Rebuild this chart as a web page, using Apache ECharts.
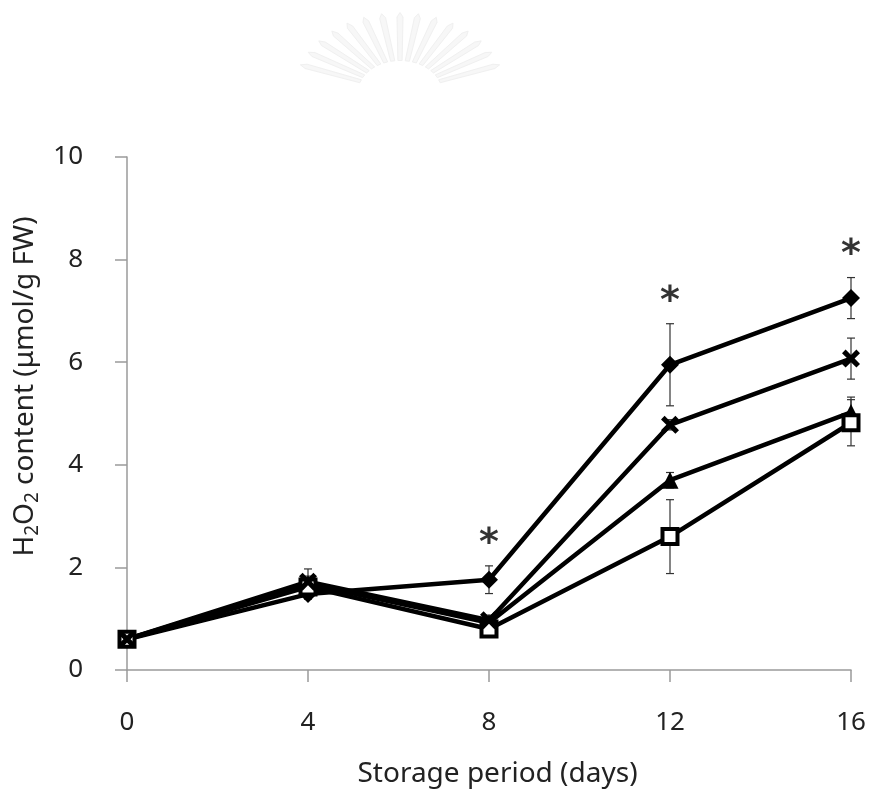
<!DOCTYPE html>
<html>
<head>
<meta charset="utf-8">
<title>H2O2 content during storage</title>
<script src="https://cdn.jsdelivr.net/npm/echarts@6/dist/echarts.min.js"></script>
<style>
  html, body { margin: 0; padding: 0; background: #ffffff; }
  #chart { width: 870px; height: 794px; }
</style>
</head>
<body>
<div id="chart"></div>
<script>
// Storage days (x axis)
const days = [0, 4, 8, 12, 16];

// Treatment means and standard deviations (µmol/g FW)
const diamondMean = [0.60, 1.48, 1.76, 5.95, 7.25];
const diamondSd   = [0.05, 0.10, 0.27, 0.80, 0.40];
const crossMean   = [0.60, 1.72, 0.97, 4.78, 6.07];
const crossSd     = [0.05, 0.25, 0.10, 0.10, 0.40];
const triangleMean = [0.60, 1.68, 0.92, 3.70, 5.02];
const triangleSd   = [0.05, 0.15, 0.10, 0.15, 0.30];
const squareMean  = [0.60, 1.62, 0.80, 2.60, 4.82];
const squareSd    = [0.05, 0.10, 0.10, 0.72, 0.45];

// Days with a significant difference (marked with *)
const sigDays = [8, 12, 16];

// Axis ticks
const yTicks = [0, 2, 4, 6, 8, 10];
const xTicks = [0, 4, 8, 12, 16];

const FONT = '"Noto Sans", "DejaVu Sans", sans-serif';
// Bold "x" marker outline
const crossPath = 'path://M0,3.2 L3.2,0 L8,4.8 L12.8,0 L16,3.2 L11.2,8 L16,12.8 L12.8,16 L8,11.2 L3.2,16 L0,12.8 L4.8,8 Z';

function pairs(mean) { return days.map((d, i) => [d, mean[i]]); }
function errRows(mean, sd) { return days.map((d, i) => [d, mean[i] - sd[i], mean[i] + sd[i]]); }

const allErr = [].concat(
  errRows(squareMean, squareSd),
  errRows(triangleMean, triangleSd),
  errRows(crossMean, crossSd),
  errRows(diamondMean, diamondSd)
);

const sigPoints = sigDays.map(d => {
  const i = days.indexOf(d);
  return [d, diamondMean[i] + diamondSd[i]];
});

function lineSeries(name, mean, symbol, size, item) {
  return {
    name: name,
    type: 'line',
    data: pairs(mean),
    symbol: symbol,
    symbolSize: size,
    showAllSymbol: true,
    lineStyle: { color: '#000', width: 4.5 },
    itemStyle: Object.assign({ color: '#000', opacity: 1 }, item || {}),
    z: 3,
    animation: false
  };
}

// Faint fan-shaped mark at the top of the page
const fan = [];
for (let k = 0; k < 15; k++) {
  const a = (200 + k * 10) * Math.PI / 180;
  const cx = 400, cy = 92;
  const r0 = 42, r1 = 100;
  const w = 0.05;
  fan.push({
    type: 'polygon',
    shape: {
      points: [
        [cx + r0 * Math.cos(a - w), cy + r0 * Math.sin(a - w) * 0.75],
        [cx + r1 * Math.cos(a - w * 0.6), cy + r1 * Math.sin(a - w * 0.6) * 0.75],
        [cx + (r1 + 6) * Math.cos(a), cy + (r1 + 6) * Math.sin(a) * 0.75],
        [cx + r1 * Math.cos(a + w * 0.6), cy + r1 * Math.sin(a + w * 0.6) * 0.75],
        [cx + r0 * Math.cos(a + w), cy + r0 * Math.sin(a + w) * 0.75]
      ]
    },
    style: { fill: '#f7f7f7', stroke: '#f0f0f0', lineWidth: 1 },
    silent: true
  });
}

const chart = echarts.init(document.getElementById('chart'), null, { renderer: 'canvas' });

chart.setOption({
  backgroundColor: '#ffffff',
  animation: false,
  graphic: fan,
  grid: { left: 127, right: 19, top: 157, bottom: 124, containLabel: false, outerBoundsMode: 'none' },
  xAxis: {
    type: 'value',
    min: 0, max: 16, interval: 4,
    name: 'Storage period (days)',
    nameLocation: 'middle',
    nameGap: 90,
    nameTextStyle: { fontFamily: FONT, fontSize: 28, color: '#222', padding: [0, 0, 0, 17] },
    axisLine: { show: true, lineStyle: { color: '#9a9a9a', width: 1.5 } },
    axisTick: { show: true, length: 12, lineStyle: { color: '#9a9a9a', width: 1.5 } },
    axisLabel: {
      fontFamily: FONT, fontSize: 26, color: '#222', margin: 40,
      formatter: v => (xTicks.indexOf(v) >= 0 ? String(v) : '')
    },
    splitLine: { show: false }
  },
  yAxis: {
    type: 'value',
    min: 0, max: 10, interval: 2,
    name: '{t|H}{s|2}{t|O}{s|2}{t| content (μmol/g FW)}',
    nameLocation: 'middle',
    nameGap: 84,
    nameTextStyle: {
      fontFamily: FONT, fontSize: 28, color: '#222', padding: [0, 0, 0, 54],
      rich: {
        t: { fontFamily: FONT, fontSize: 28, color: '#222' },
        s: { fontFamily: FONT, fontSize: 19, color: '#222', padding: [16, 0, 0, 0] }
      }
    },
    axisLine: { show: true, lineStyle: { color: '#9a9a9a', width: 1.5 } },
    axisTick: { show: true, length: 12, lineStyle: { color: '#9a9a9a', width: 1.5 } },
    axisLabel: {
      fontFamily: FONT, fontSize: 26, color: '#222', margin: 44,
      formatter: v => (yTicks.indexOf(v) >= 0 ? String(v) : '')
    },
    splitLine: { show: false }
  },
  series: [
    {
      name: 'error',
      type: 'custom',
      data: allErr,
      z: 2,
      renderItem: function (params, api) {
        const x = api.value(0);
        const lo = api.coord([x, api.value(1)]);
        const hi = api.coord([x, api.value(2)]);
        const cap = 4;
        const st = { stroke: '#333', lineWidth: 1.2 };
        return {
          type: 'group',
          children: [
            { type: 'line', shape: { x1: hi[0], y1: hi[1], x2: lo[0], y2: lo[1] }, style: st },
            { type: 'line', shape: { x1: hi[0] - cap, y1: hi[1], x2: hi[0] + cap, y2: hi[1] }, style: st },
            { type: 'line', shape: { x1: lo[0] - cap, y1: lo[1], x2: lo[0] + cap, y2: lo[1] }, style: st }
          ]
        };
      },
      animation: false
    },
    lineSeries('diamond', diamondMean, 'diamond', 18),
    lineSeries('triangle', triangleMean, 'triangle', 17),
    lineSeries('square', squareMean, 'rect', 15, { color: '#fff', borderColor: '#000', borderWidth: 4 }),
    lineSeries('cross', crossMean, crossPath, 18),
    {
      name: 'significance',
      type: 'scatter',
      data: sigPoints,
      symbolSize: 2,
      itemStyle: { color: 'rgba(0,0,0,0)' },
      label: {
        show: true,
        position: 'top',
        distance: 2,
        formatter: '*',
        fontFamily: '"DejaVu Sans", sans-serif',
        fontWeight: 'bold',
        fontSize: 38,
        color: '#000'
      },
      z: 4,
      animation: false
    }
  ]
});
</script>
</body>
</html>
